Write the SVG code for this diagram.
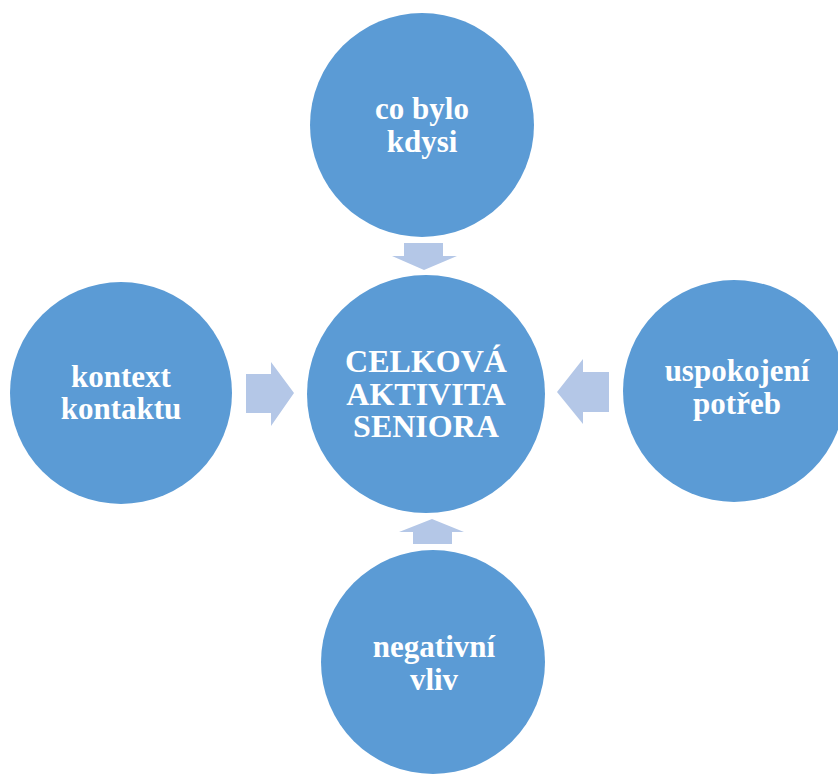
<svg xmlns="http://www.w3.org/2000/svg" width="838" height="774" viewBox="0 0 838 774">
<style>
.node{fill:#5B9BD5}
.arr{fill:#B4C7E7}
.t{fill:#FFFFFF;font-family:'Liberation Serif','Times New Roman',Times,serif;font-weight:700;font-size:31px;text-anchor:middle}
.tc{font-size:32px}
</style>
<rect width="838" height="774" fill="#FFFFFF"/>
<g id="connectors">
<polygon class="arr" points="404,243 443,243 443,256 457,256 424,270 392,256 404,256"/>
<polygon class="arr" points="246,374 271,374 271,362 294,393 271,426 271,413 246,413"/>
<polygon class="arr" points="609,372 583,372 583,359 557,392 583,424 583,412 609,412"/>
<polygon class="arr" points="413,544 452,544 452,532 464,532 432,519 399,532 413,532"/>
</g>
<g id="node-center">
<circle class="node" cx="426" cy="394" r="119"/>
<text class="t tc" x="426" y="372">CELKOVÁ</text>
<text class="t tc" x="426" y="405">AKTIVITA</text>
<text class="t tc" x="426" y="437">SENIORA</text>
</g>
<g id="node-top">
<circle class="node" cx="422" cy="125" r="112"/>
<text class="t" x="422" y="119">co bylo</text>
<text class="t" x="422" y="152">kdysi</text>
</g>
<g id="node-left">
<circle class="node" cx="121" cy="393" r="111"/>
<text class="t" x="121" y="387">kontext</text>
<text class="t" x="121" y="419">kontaktu</text>
</g>
<g id="node-right">
<circle class="node" cx="734" cy="391" r="111"/>
<text class="t" x="737" y="381">uspokojení</text>
<text class="t" x="737" y="414">potřeb</text>
</g>
<g id="node-bottom">
<circle class="node" cx="433" cy="662" r="112"/>
<text class="t" x="434" y="657">negativní</text>
<text class="t" x="434" y="690">vliv</text>
</g>
</svg>
